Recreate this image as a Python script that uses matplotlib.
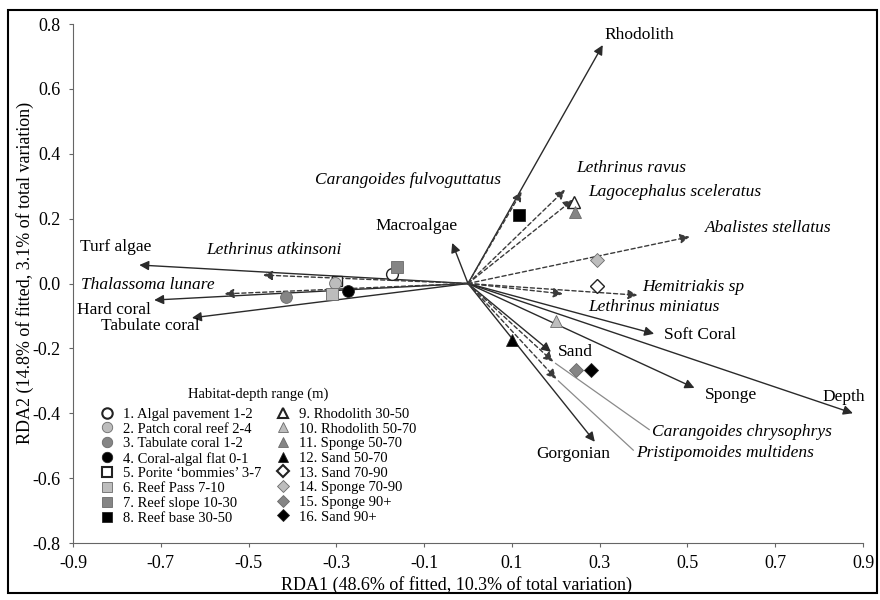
import numpy as np
import matplotlib
matplotlib.use("Agg")
import matplotlib.pyplot as plt
from matplotlib.patches import Rectangle
from matplotlib.lines import Line2D

plt.rcParams['font.family'] = ['Liberation Serif', 'DejaVu Serif']

# Environmental variables (solid arrows)
env_names = ["Rhodolith", "Turf algae", "Hard coral", "Tabulate coral", "Macroalgae",
             "Soft Coral", "Sponge", "Depth", "Gorgonian", "Sand"]
env_x = [0.307, -0.749, -0.715, -0.629, -0.036, 0.424, 0.516, 0.877, 0.289, 0.189]
env_y = [0.735, 0.057, -0.051, -0.106, 0.125, -0.155, -0.322, -0.400, -0.488, -0.211]

# Fish species (dashed arrows)
sp_names = ["Carangoides fulvoguttatus", "Lethrinus ravus", "Lagocephalus sceleratus",
            "Abalistes stellatus", "Hemitriakis sp", "Lethrinus miniatus",
            "Lethrinus atkinsoni", "Thalassoma lunare", "Carangoides chrysophrys",
            "Pristipomoides multidens"]
sp_x = [0.122, 0.221, 0.239, 0.505, 0.386, 0.216, -0.467, -0.555, 0.194, 0.201]
sp_y = [0.283, 0.289, 0.258, 0.144, -0.036, -0.032, 0.026, -0.032, -0.241, -0.294]

# Sites: habitat-depth range
site_names = ["1. Algal pavement 1-2", "2. Patch coral reef 2-4", "3. Tabulate coral 1-2",
              "4. Coral-algal flat 0-1", "5. Porite \u2018bommies\u2019 3-7", "6. Reef Pass 7-10",
              "7. Reef slope 10-30", "8. Reef base 30-50", "9. Rhodolith 30-50",
              "10. Rhodolith 50-70", "11. Sponge 50-70", "12. Sand 50-70",
              "13. Sand 70-90", "14. Sponge 70-90", "15. Sponge 90+", "16. Sand 90+"]
site_x = [-0.174, -0.302, -0.415, -0.273, -0.299, -0.309, -0.162, 0.117,
          0.241, 0.201, 0.243, 0.101, 0.293, 0.293, 0.246, 0.280]
site_y = [0.029, 0.002, -0.042, -0.023, 0.007, -0.032, 0.051, 0.211,
          0.251, -0.116, 0.220, -0.174, -0.008, 0.072, -0.267, -0.267]

shade = ["white", "#bdbdbd", "#858585", "black"]
shapes = ["o", "s", "^", "D"]

# label placement (offset in pixels from arrow tip, alignment)
env_lab = [(2, 10, "left"), (-24, 18, "center"), (-40, -10, "center"), (-42, -8, "center"),
           (-36, 17, "center"), (10, -1, "left"), (10, -7, "left"), (-30, 16, "left"),
           (-22, -12, "center"), (7, 0, "left")]
sp_lab = [(-21, 12, "right"), (11, 22, "left"), (15, 8, "left"), (15, 9, "left"),
          (5, 8, "left"), (25, -13, "left"), (-57, 25, "left"), (-10, 9, "right"),
          (99, -70, "left"), (80, -74, "left")]

fig = plt.figure(figsize=(8.8, 6), dpi=100)
ax = fig.add_axes([73 / 880, 57 / 600, 790 / 880, 519 / 600])
fig.patches.append(Rectangle((8 / 880, 7 / 600), 869 / 880, 583 / 600, transform=fig.transFigure,
                             fill=False, ec="black", lw=1.5))

ax.set_xlim(-0.9, 0.9)
ax.set_ylim(-0.8, 0.8)

for i in range(len(env_names)):
    ax.annotate("", xy=(env_x[i], env_y[i]), xytext=(0, 0),
                arrowprops=dict(arrowstyle="-|>", color="#2a2a2a", lw=1.0,
                                mutation_scale=14, shrinkA=0, shrinkB=0))
    dx, dy, ha = env_lab[i]
    ax.annotate(env_names[i], xy=(env_x[i], env_y[i]), xytext=(dx, dy),
                textcoords="offset pixels", ha=ha, va="center", fontsize=12.5)

for i in range(len(sp_names)):
    ax.annotate("", xy=(sp_x[i], sp_y[i]), xytext=(0, 0),
                arrowprops=dict(arrowstyle="-|>", color="#3a3a3a", lw=1.0, ls=(0, (3, 2)),
                                mutation_scale=14, shrinkA=0, shrinkB=0))
    dx, dy, ha = sp_lab[i]
    if i >= 8:
        # thin leader line from arrow tip to the label
        ax.annotate(sp_names[i], xy=(sp_x[i], sp_y[i]), xytext=(dx, dy),
                    textcoords="offset pixels", ha=ha, va="center", fontsize=12.5,
                    style="italic",
                    arrowprops=dict(arrowstyle="-", color="#8a8a8a", lw=0.9,
                                    shrinkA=0, shrinkB=2, relpos=(0, 0.5)))
    else:
        ax.annotate(sp_names[i], xy=(sp_x[i], sp_y[i]), xytext=(dx, dy),
                    textcoords="offset pixels", ha=ha, va="center", fontsize=12.5,
                    style="italic")

handles = []
for i in range(len(site_names)):
    m = shapes[i // 4]
    fc = shade[i % 4]
    ms = 8.5 if m != "D" else 7
    ec = "#222222" if fc in ("white", "black") else "#6a6a6a"
    z = 4 if i == 4 else 5  # the Porite square sits under the patch coral circle
    ax.plot(site_x[i], site_y[i], marker=m, ms=ms if i != 4 else 7.5, mfc=fc, mec=ec,
            mew=1.0 if fc == "white" else 0.6, ls="none", zorder=z)
    handles.append(Line2D([], [], marker=m, ms=ms - 1, mfc=fc, mec=ec, mew=1.5 if fc == "white" else 0.6,
                          ls="none"))

leg = ax.legend(handles, site_names, title="Habitat-depth range (m)", ncol=2,
                loc="upper left", bbox_to_anchor=(0.034, 0.3), frameon=False,
                fontsize=10.5, title_fontsize=10.5, labelspacing=0.1, handlelength=1.0,
                handletextpad=0.6, columnspacing=1.0, borderaxespad=0, borderpad=0)
leg._legend_box.sep = 5

xt = np.arange(-0.9, 0.91, 0.2)
yt = np.arange(-0.8, 0.81, 0.2)
ax.set_xticks(xt)
ax.set_yticks(yt)
ax.set_xticklabels([f"{round(v, 1) + 0.0:.1f}" for v in xt])
ax.set_yticklabels([f"{round(v, 1) + 0.0:.1f}" for v in yt])
ax.tick_params(labelsize=13, length=3, color="#666666", pad=6)
for s in ["top", "right"]:
    ax.spines[s].set_visible(False)
for s in ["left", "bottom"]:
    ax.spines[s].set_color("#666666")

ax.set_xlabel("RDA1 (48.6% of fitted, 10.3% of total variation)", fontsize=13)
ax.set_ylabel("RDA2 (14.8% of fitted, 3.1% of total variation)", fontsize=13)
ax.xaxis.set_label_coords(0.485, -0.064)
ax.yaxis.set_label_coords(-0.05, 0.52)

fig.savefig("out.png", dpi=100)
